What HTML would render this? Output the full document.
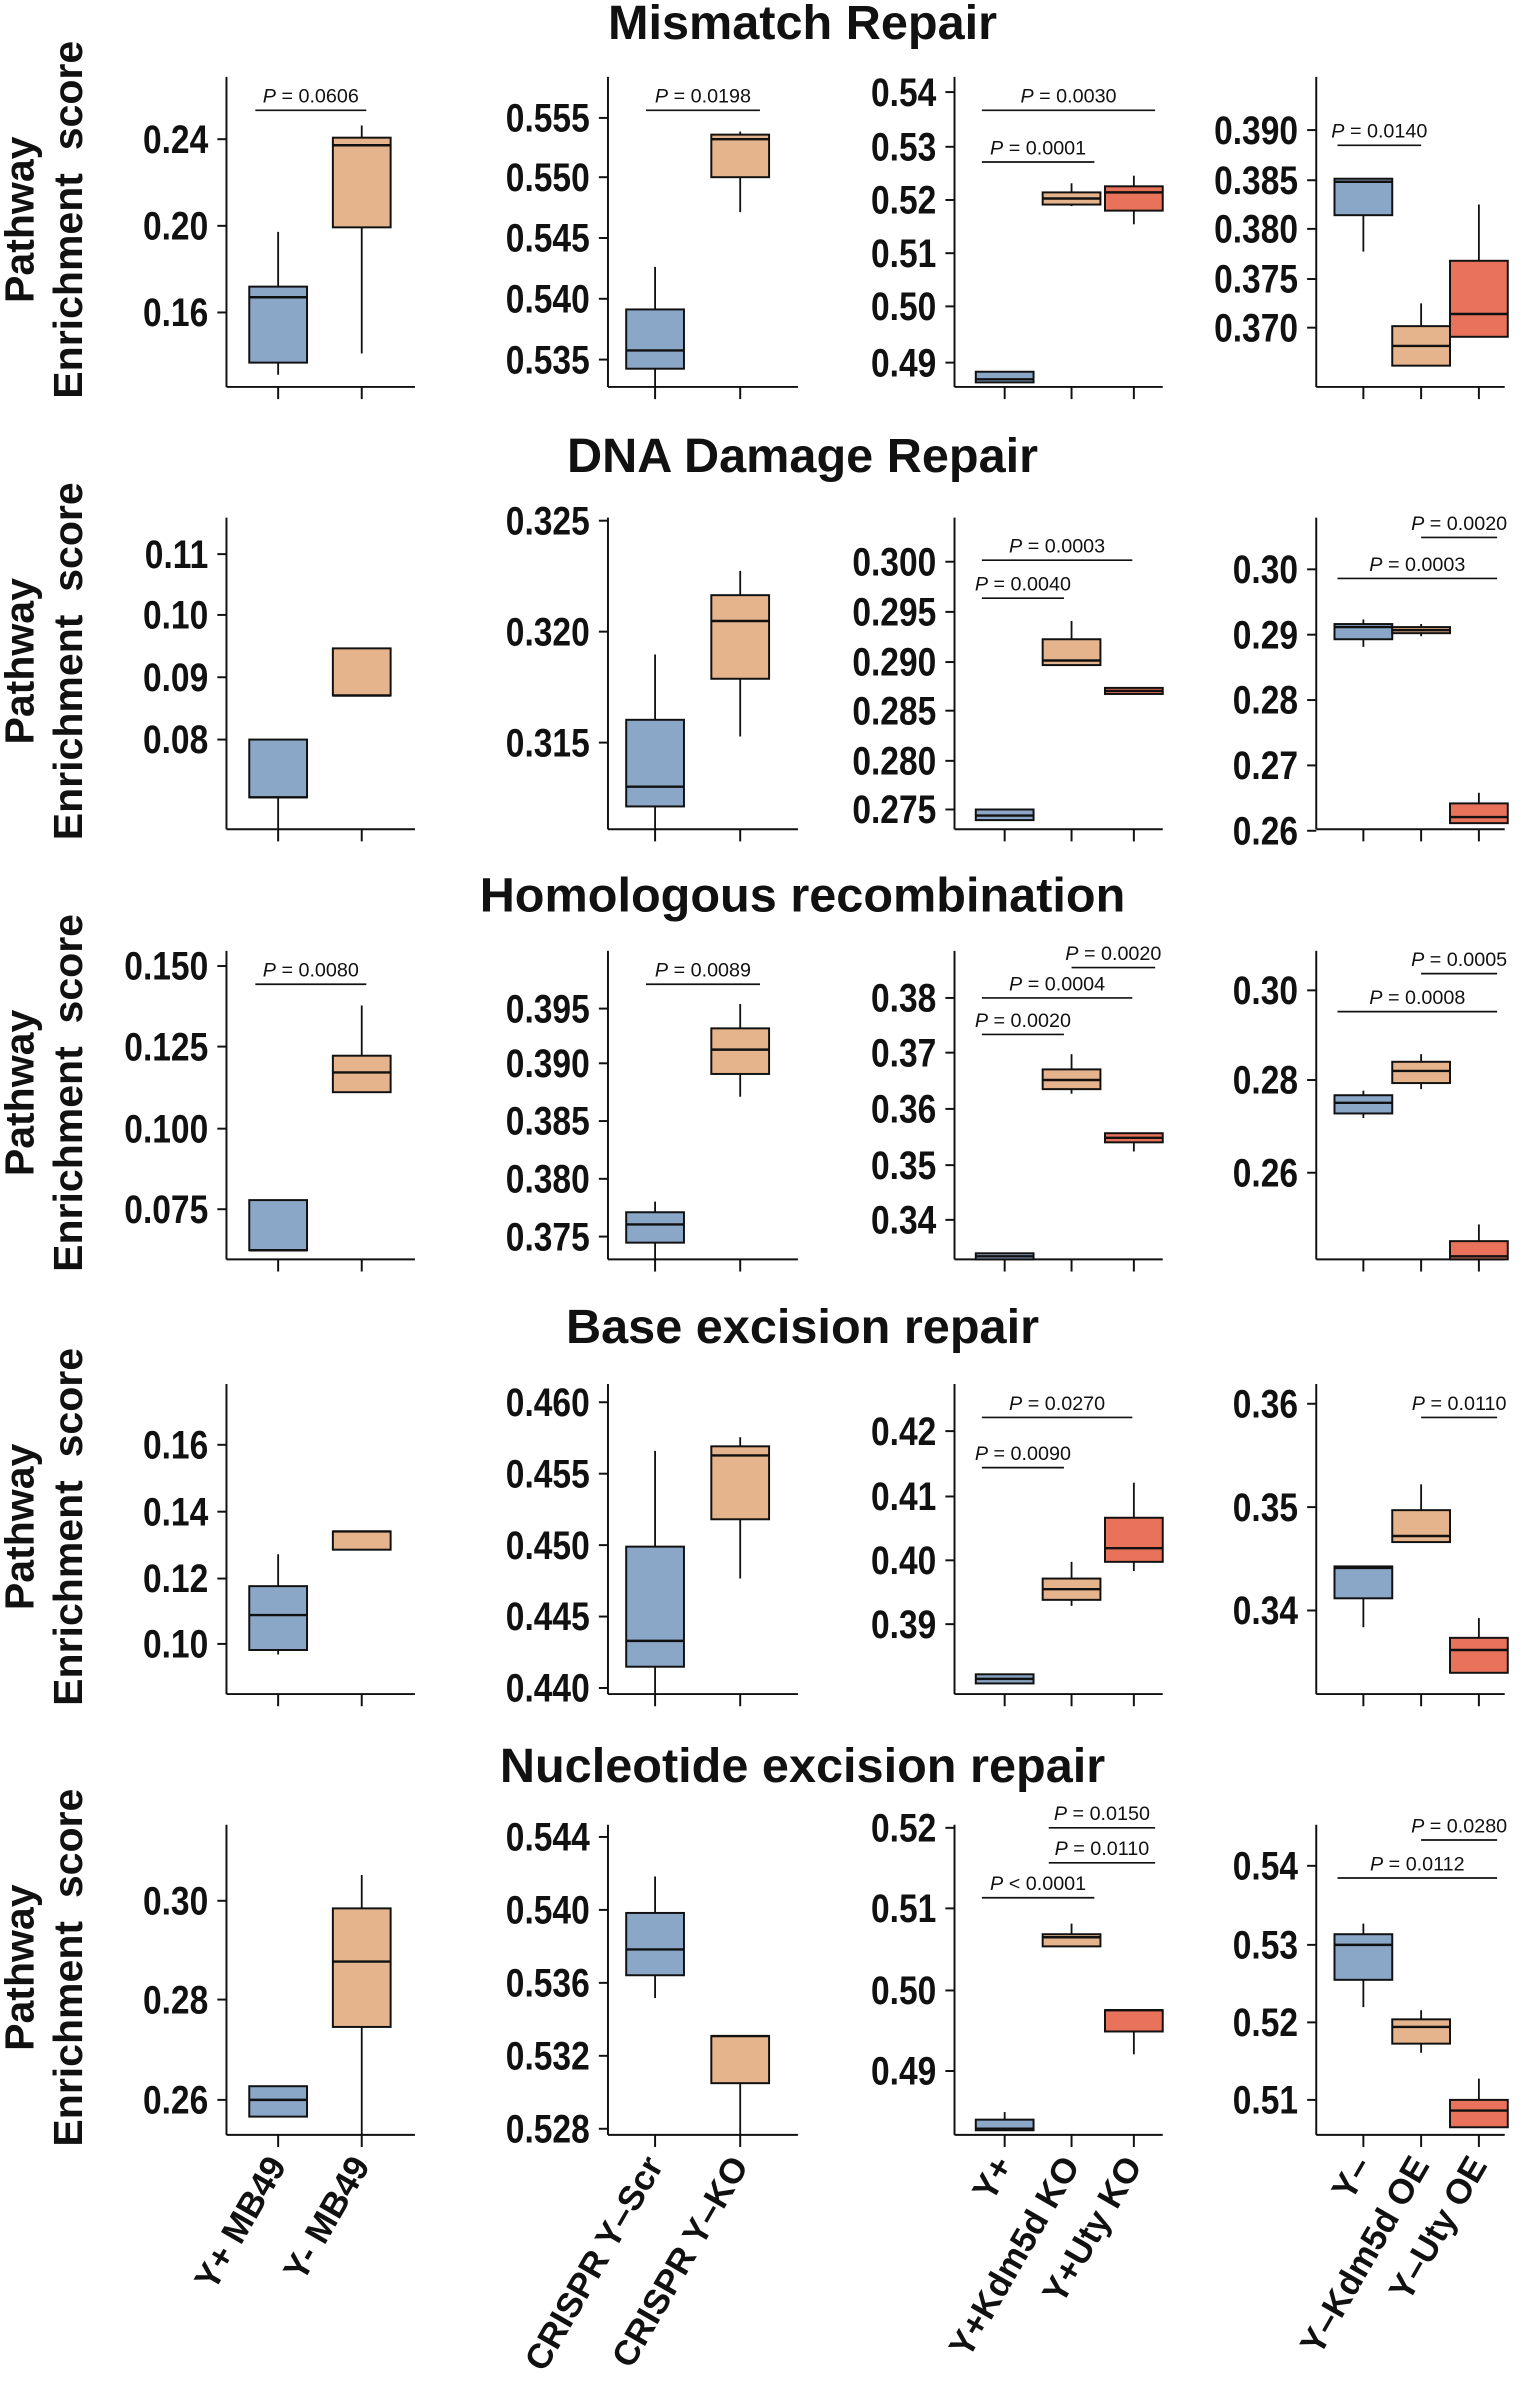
<!DOCTYPE html>
<html><head><meta charset="utf-8"><style>
html,body{margin:0;padding:0;background:#fff}
svg{display:block}
text{font-family:"Liberation Sans",Arial,sans-serif}
</style></head><body>
<svg id="s" xmlns="http://www.w3.org/2000/svg" width="1526" height="2385" viewBox="0 0 1004 1568"></svg>
<script>
const B='#8ba7c8',O='#e6b48c',R='#e8735a';
const rows=[
{title:'Mismatch Repair',ty:25,top:50,bot:254,panels:[
 {ax:149,right:273,xs:[183,238],yt:[['0.24',91],['0.20',148],['0.16',205]],
  bx:[[152,188,195,238,246,B],[82,90,95,149,232,O]],ps:[['0.0606',168,241,72]]},
 {ax:400,right:525,xs:[431,487],yt:[['0.555',77],['0.550',116],['0.545',156],['0.540',196],['0.535',236]],
  bx:[[175,203,230,242,254,B],[86,88,91,116,139,O]],ps:[['0.0198',425,500,72]]},
 {ax:628,right:765,xs:[661,705,746],yt:[['0.54',60],['0.53',96],['0.52',131],['0.51',166],['0.50',201],['0.49',238]],
  bx:[[244,244,249,251,251,B],[120,126,130,134,135,O],[115,122,126,138,147,R]],ps:[['0.0001',646,720,106],['0.0030',646,760,72]]},
 {ax:866,right:990,xs:[897,935,973],yt:[['0.390',85],['0.385',118],['0.380',150],['0.375',183],['0.370',215]],
  bx:[[117,117,119,141,165,B],[199,214,227,240,240,O],[134,171,206,221,221,R]],ps:[['0.0140',880,935,95]]}]},
{title:'DNA Damage Repair',ty:310,top:340,bot:545,panels:[
 {ax:149,right:273,xs:[183,238],yt:[['0.11',364],['0.10',404],['0.09',445],['0.08',486]],
  bx:[[486,486,524,524,545,B],[426,426,457,457,457,O]],ps:[]},
 {ax:400,right:525,xs:[431,487],yt:[['0.325',342],['0.320',415],['0.315',488]],
  bx:[[430,473,517,530,545,B],[375,391,408,446,484,O]],ps:[]},
 {ax:628,right:765,xs:[661,705,746],yt:[['0.300',369],['0.295',402],['0.290',435],['0.285',467],['0.280',500],['0.275',532]],
  bx:[[532,532,536,539,539,B],[408,420,434,437,437,O],[452,452,454,456,456,R]],ps:[['0.0040',646,700,393],['0.0003',646,745,368]]},
 {ax:866,right:990,xs:[897,935,973],yt:[['0.30',374],['0.29',417],['0.28',460],['0.27',503],['0.26',546]],
  bx:[[407,410,412,420,425,B],[410,412,414,416,418,O],[521,528,537,541,541,R]],ps:[['0.0020',935,985,353],['0.0003',880,985,380]]}]},
{title:'Homologous recombination',ty:599,top:625,bot:828,panels:[
 {ax:149,right:273,xs:[183,238],yt:[['0.150',635],['0.125',688],['0.100',742],['0.075',795]],
  bx:[[789,789,822,822,822,B],[661,694,705,718,718,O]],ps:[['0.0080',168,241,647]]},
 {ax:400,right:525,xs:[431,487],yt:[['0.395',663],['0.390',699],['0.385',737],['0.380',775],['0.375',813]],
  bx:[[790,797,805,817,829,B],[660,676,690,706,721,O]],ps:[['0.0089',425,500,647]]},
 {ax:628,right:765,xs:[661,705,746],yt:[['0.38',656],['0.37',692],['0.36',729],['0.35',766],['0.34',802]],
  bx:[[824,824,826,828,828,B],[693,703,710,716,719,O],[745,745,748,751,757,R]],ps:[['0.0020',646,700,680],['0.0004',646,745,656],['0.0020',705,760,636]]},
 {ax:866,right:990,xs:[897,935,973],yt:[['0.30',651],['0.28',710],['0.26',771]],
  bx:[[717,720,725,732,735,B],[693,698,704,712,716,O],[805,816,826,828,828,R]],ps:[['0.0005',935,985,640],['0.0008',880,985,665]]}]},
{title:'Base excision repair',ty:883,top:910,bot:1114,panels:[
 {ax:149,right:273,xs:[183,238],yt:[['0.16',950],['0.14',994],['0.12',1038],['0.10',1081]],
  bx:[[1022,1043,1062,1085,1088,B],[1007,1007,1007,1019,1019,O]],ps:[]},
 {ax:400,right:525,xs:[431,487],yt:[['0.460',922],['0.455',969],['0.450',1016],['0.445',1063],['0.440',1110]],
  bx:[[954,1017,1079,1096,1114,B],[945,951,957,999,1038,O]],ps:[]},
 {ax:628,right:765,xs:[661,705,746],yt:[['0.42',941],['0.41',984],['0.40',1026],['0.39',1068]],
  bx:[[1101,1101,1104,1107,1107,B],[1027,1038,1045,1052,1056,O],[975,998,1018,1027,1033,R]],ps:[['0.0090',646,700,965],['0.0270',646,745,932]]},
 {ax:866,right:990,xs:[897,935,973],yt:[['0.36',923],['0.35',991],['0.34',1059]],
  bx:[[1030,1030,1031,1051,1070,B],[976,993,1010,1014,1014,O],[1064,1077,1085,1100,1100,R]],ps:[['0.0110',935,985,932]]}]},
{title:'Nucleotide excision repair',ty:1172,top:1200,bot:1404,panels:[
 {ax:149,right:273,xs:[183,238],yt:[['0.30',1250],['0.28',1315],['0.26',1381]],
  bx:[[1372,1372,1381,1392,1392,B],[1233,1255,1290,1333,1404,O]],ps:[]},
 {ax:400,right:525,xs:[431,487],yt:[['0.544',1208],['0.540',1256],['0.536',1304],['0.532',1352],['0.528',1400]],
  bx:[[1234,1258,1282,1299,1314,B],[1339,1339,1339,1370,1404,O]],ps:[]},
 {ax:628,right:765,xs:[661,705,746],yt:[['0.52',1202],['0.51',1255],['0.50',1309],['0.49',1362]],
  bx:[[1389,1394,1400,1401,1401,B],[1265,1272,1274,1280,1280,O],[1322,1322,1322,1336,1351,R]],ps:[['< 0.0001',646,720,1248,1],['0.0110',690,760,1225],['0.0150',690,760,1202]]},
 {ax:866,right:990,xs:[897,935,973],yt:[['0.54',1227],['0.53',1279],['0.52',1330],['0.51',1381]],
  bx:[[1265,1272,1279,1302,1320,B],[1322,1328,1333,1344,1350,O],[1367,1381,1388,1399,1399,R]],ps:[['0.0280',935,985,1210],['0.0112',880,985,1235]]}]}
];
const xl=[[['Y+ MB49',183],['Y- MB49',238]],[['CRISPR Y\u2013Scr',431],['CRISPR Y\u2013KO',487]],[['Y+',661],['Y+Kdm5d KO',705],['Y+Uty KO',746]],[['Y\u2013',897],['Y\u2013Kdm5d OE',935],['Y\u2013Uty OE',973]]];
let h='';
const L=(a,b,c,d,w)=>`<line x1="${a}" y1="${b}" x2="${c}" y2="${d}" stroke="#111" stroke-width="${w||1.3}"/>`;
rows.forEach(r=>{
 h+=`<text x="528" y="${r.ty}" font-size="32" font-weight="bold" text-anchor="middle" fill="#111">${r.title}</text>`;
 const cy=(r.top+r.bot)/2-8;
 h+=`<text transform="translate(22,${cy}) rotate(-90)" font-size="27" font-weight="bold" text-anchor="middle" fill="#111">Pathway</text>`;
 h+=`<text transform="translate(54,${cy}) rotate(-90)" font-size="27" font-weight="bold" text-anchor="middle" fill="#111">Enrichment&#160;&#160;score</text>`;
 r.panels.forEach(p=>{
  h+=L(p.ax,r.top,p.ax,r.bot)+L(p.ax,r.bot,p.right,r.bot);
  p.xs.forEach(x=>h+=L(x,r.bot,x,r.bot+8));
  p.yt.forEach(t=>{h+=L(p.ax-6,t[1],p.ax,t[1]);h+=`<text transform="translate(${p.ax-12},${t[1]+9}) scale(0.92,1.1)" font-size="24" font-weight="bold" text-anchor="end" fill="#111">${t[0]}</text>`;});
  p.bx.forEach((b,i)=>{const c=p.xs[i],w=19;
   h+=L(c,b[0],c,b[4],1.2);
   h+=`<rect x="${c-w}" y="${b[1]}" width="${2*w}" height="${Math.max(b[3]-b[1],2)}" fill="${b[5]}" stroke="#111" stroke-width="1.3"/>`;
   h+=L(c-w,b[2],c+w,b[2],1.6);});
  p.ps.forEach(q=>{h+=L(q[1],q[3],q[2],q[3],1.1);
   h+=`<text x="${(q[1]+q[2])/2}" y="${q[3]-5}" font-size="13" text-anchor="middle" fill="#111"><tspan font-style="italic">P</tspan> ${q[4]?'':'= '}${q[0]}</text>`;});
 });
});
xl.forEach(g=>g.forEach(([t,x])=>{h+=`<text transform="translate(${x+6},1424) rotate(-60)" font-size="23" font-weight="bold" text-anchor="end" fill="#111">${t}</text>`;}));
document.getElementById('s').innerHTML=h;
</script>
</body></html>
